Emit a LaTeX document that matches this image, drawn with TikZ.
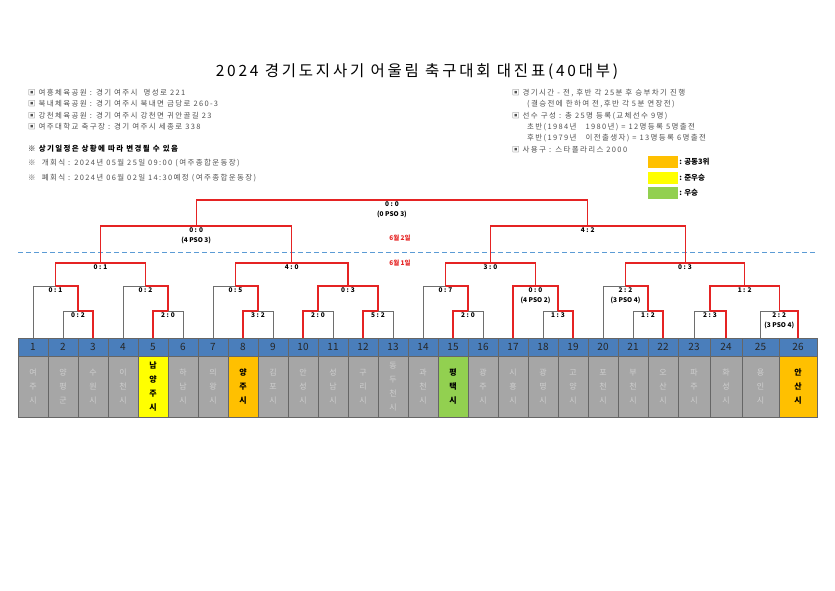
\documentclass[tikz,border=0pt]{standalone}
\usepackage{fontspec}
\setmainfont{Noto Sans CJK KR}
\newfontfamily\spacedfont[LetterSpace=18]{Noto Sans CJK KR}
\usetikzlibrary{positioning,calc}

\definecolor{winred}{HTML}{E52323}
\definecolor{linegray}{HTML}{6E6E6E}
\definecolor{headblue}{HTML}{4A7EBB}
\definecolor{namegray}{HTML}{A6A6A6}
\definecolor{nametext}{HTML}{CFCFCF}
\definecolor{thirdorange}{HTML}{FFC000}
\definecolor{secondyellow}{HTML}{FFFF00}
\definecolor{firstgreen}{HTML}{92D050}
\definecolor{infogray}{HTML}{505050}
\definecolor{dayblue}{HTML}{5B9BD5}

% one match: winner, loser, level, name, score, style of the loser's line
\newcommand\bout[6]{%
  \coordinate (#4) at ($(#1 |- 0,#3)!0.5!(#2 |- 0,#3)$);
  \draw[#6] (#2) -- (#2 |- #4) -- (#4);
  \draw[win] (#1) -- (#1 |- #4) -- (#4);
  \node[score] at (#4) {#5};}

\begin{document}
\begin{tikzpicture}[x=1pt,y=-1pt,
    win/.style={draw=winred, line width=1.1pt},
    lose/.style={draw=linegray, line width=0.7pt},
    score/.style={below, inner sep=1.5pt, align=center,
      font=\fontsize{6.5}{10}\selectfont\bfseries},
    numcell/.style={draw=black!60, fill=headblue, line width=0.4pt,
      minimum height=18pt, inner sep=0pt, outer sep=0pt,
      font=\fontsize{10}{10}\selectfont, text=black!85},
    namecell/.style={draw=black!60, line width=0.4pt, anchor=north,
      minimum height=61pt, inner sep=0pt, outer sep=0pt, align=center,
      font=\fontsize{8}{14}\selectfont},
    pname/.style={fill=namegray, text=nametext},
    yname/.style={fill=secondyellow, text=black, font=\fontsize{8}{14}\selectfont\bfseries},
    oname/.style={fill=thirdorange, text=black, font=\fontsize{8}{14}\selectfont\bfseries},
    gname/.style={fill=firstgreen, text=black, font=\fontsize{8}{14}\selectfont\bfseries},
    info/.style={anchor=west, inner sep=0pt, text=infogray,
      font=\spacedfont\fontsize{7.5}{8}\selectfont},
    legbox/.style={fill=#1, minimum width=30pt, minimum height=12pt, inner sep=0pt},
    legtext/.style={anchor=west, inner sep=1pt, font=\fontsize{7.5}{9}\selectfont\bfseries},
    day/.style={text=winred, font=\fontsize{6.5}{8}\selectfont\bfseries},
  ]
\useasboundingbox (0,0) rectangle (835,591);

\node (title) at (417,72) {\spacedfont\fontsize{15.5}{17}\selectfont 2024 경기도지사기 어울림 축구대회 대진표(40대부)};

\node[info] (i1) at (28,93) {▣ 여흥체육공원 : 경기 여주시 \ 명성로 221};
\node[info] (i2) at (28,104) {▣ 북내체육공원 : 경기 여주시 북내면 금당로 260-3};
\node[info] (i3) at (28,116) {▣ 강천체육공원 : 경기 여주시 강천면 귀안골길 23};
\node[info] (i4) at (28,127) {▣ 여주대학교 축구장 : 경기 여주시 세종로 338};
\node[info, text=black, font=\spacedfont\fontsize{7.5}{8}\selectfont\bfseries] (i5) at (28,149) {※ 상기일정은 상황에 따라 변경될 수 있음};
\node[info] (i6) at (28,163) {※ \ 개회식 : 2024년 05월 25일 09:00 (여주종합운동장)};
\node[info] (i7) at (28,178) {※ \ 폐회식 : 2024년 06월 02일 14:30예정 (여주종합운동장)};

\node[info] (r1) at (512,93) {▣ 경기시간 - 전, 후반 각 25분 후 승부차기 진행};
\node[info] (r2) at (527,104) {(결승전에 한하여 전,후반 각 5분 연장전)};
\node[info] (r3) at (512,116) {▣ 선수 구성 : 총 25명 등록(교체선수 9명)};
\node[info] (r4) at (527,127) {초반(1984년 ~ 1980년) = 12명등록 5명출전};
\node[info] (r5) at (527,138) {후반(1979년 ~ 이전출생자) = 13명등록 6명출전};
\node[info] (r6) at (512,150) {▣ 사용구 : 스타폴라리스 2000};

\node[legbox=thirdorange] (l1) at (663,161.5) {};
\node[legbox=secondyellow] (l2) at (663,178) {};
\node[legbox=firstgreen] (l3) at (663,193) {};
\node[legtext] at (l1.east) {: 공동3위};
\node[legtext] at (l2.east) {: 준우승};
\node[legtext] at (l3.east) {: 우승};

\foreach \i/\xl/\w/\nm/\st in {
    1/18/30/{여\\주\\시}/pname, 2/48/30/{양\\평\\군}/pname, 3/78/30/{수\\원\\시}/pname,
    4/108/30/{이\\천\\시}/pname, 5/138/30/{남\\양\\주\\시}/yname, 6/168/30/{하\\남\\시}/pname,
    7/198/30/{의\\왕\\시}/pname, 8/228/30/{양\\주\\시}/oname, 9/258/30/{김\\포\\시}/pname,
    10/288/30/{안\\성\\시}/pname, 11/318/30/{성\\남\\시}/pname, 12/348/30/{구\\리\\시}/pname,
    13/378/30/{동\\두\\천\\시}/pname, 14/408/30/{과\\천\\시}/pname, 15/438/30/{평\\택\\시}/gname,
    16/468/30/{광\\주\\시}/pname, 17/498/30/{시\\흥\\시}/pname, 18/528/30/{광\\명\\시}/pname,
    19/558/30/{고\\양\\시}/pname, 20/588/30/{포\\천\\시}/pname, 21/618/30/{부\\천\\시}/pname,
    22/648/30/{오\\산\\시}/pname, 23/678/32/{파\\주\\시}/pname, 24/710/32/{화\\성\\시}/pname,
    25/742/37/{용\\인\\시}/pname, 26/779/38/{안\\산\\시}/oname} {
  \node[numcell, minimum width=\w pt] (n\i) at ({\xl+\w/2},347) {\i};
  \node[namecell, \st, minimum width=\w pt] (c\i) at (n\i.south) {\nm};
  \coordinate (t\i) at (n\i.north);
}

\coordinate (dl) at (18,252);
\coordinate (dr) at (817,252);
\draw[dayblue, dashed, line width=0.9pt, dash pattern=on 5pt off 3pt] (dl) -- (dr);
\node[day] (d2) at (400,238) {6월 2일};
\node[day] (d1) at (400,263) {6월 1일};

% left half
\bout{t3}{t2}{311}{m23}{0 : 2}{lose}
\bout{m23}{t1}{286}{m13}{0 : 1}{lose}
\bout{t5}{t6}{311}{m56}{2 : 0}{lose}
\bout{m56}{t4}{286}{m46}{0 : 2}{lose}
\bout{m46}{m13}{263}{m16}{0 : 1}{win}
\bout{t8}{t9}{311}{m89}{3 : 2}{lose}
\bout{m89}{t7}{286}{m79}{0 : 5}{lose}
\bout{t10}{t11}{311}{m1011}{2 : 0}{lose}
\bout{t12}{t13}{311}{m1213}{5 : 2}{lose}
\bout{m1213}{m1011}{286}{m1013}{0 : 3}{win}
\bout{m79}{m1013}{263}{m713}{4 : 0}{win}
\bout{m16}{m713}{226}{sl}{0 : 0\\(4 PSO 3)}{win}
% right half
\bout{t15}{t16}{311}{m1516}{2 : 0}{lose}
\bout{m1516}{t14}{286}{m1416}{0 : 7}{lose}
\bout{t19}{t18}{311}{m1819}{1 : 3}{lose}
\bout{t17}{m1819}{286}{m1719}{0 : 0\\(4 PSO 2)}{win}
\bout{m1416}{m1719}{263}{m1419}{3 : 0}{win}
\bout{t22}{t21}{311}{m2122}{1 : 2}{lose}
\bout{m2122}{t20}{286}{m2022}{2 : 2\\(3 PSO 4)}{lose}
\bout{t24}{t23}{311}{m2324}{2 : 3}{lose}
\bout{t26}{t25}{311}{m2526}{2 : 2\\(3 PSO 4)}{lose}
\bout{m2526}{m2324}{286}{m2326}{1 : 2}{win}
\bout{m2326}{m2022}{263}{m2026}{0 : 3}{win}
\bout{m1419}{m2026}{226}{sr}{4 : 2}{win}
% final
\bout{sr}{sl}{200}{fin}{0 : 0\\(0 PSO 3)}{win}
\end{tikzpicture}
\end{document}
